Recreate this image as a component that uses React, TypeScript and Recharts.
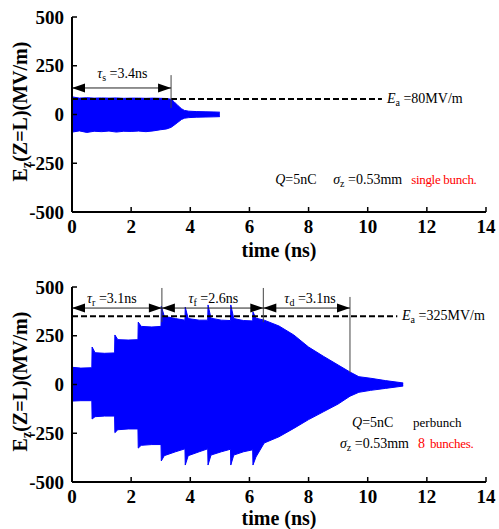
import { ComposedChart, Area, XAxis, YAxis, ReferenceLine, ReferenceDot, Label } from "recharts";

const FONT = "'Liberation Serif', 'Times New Roman', serif";

const xTicks = [0, 2, 4, 6, 8, 10, 12, 14];
const yTicks = [-500, -250, 0, 250, 500];

// single bunch: field envelope, time (ns) / lower / upper (MV/m)
const singleTime = [0, 0.02, 0.25, 0.5, 0.75, 1.0, 1.25, 1.5, 1.75, 2.0, 2.25, 2.5, 2.75, 3.0, 3.2, 3.35, 3.45, 3.58, 3.7, 3.8, 3.95, 4.2, 4.5, 4.8, 5.0];
const singleHigh = [135, 90, 84, 86, 84, 85, 84, 85, 83, 84, 84, 83, 84, 83, 82, 78, 66, 46, 30, 21, 17, 15, 14, 13, 12];
const singleLow = [-95, -90, -84, -92, -86, -88, -85, -90, -86, -87, -85, -88, -84, -78, -74, -66, -55, -40, -26, -19, -16, -14, -13, -12, -11];

// 8 bunches
const multiTime = [0, 0.02, 0.3, 0.67, 0.68, 0.78, 1.1, 1.44, 1.45, 1.55, 1.9, 2.23, 2.24, 2.34, 2.7, 3.01, 3.02, 3.12, 3.5, 3.82, 3.83, 3.93, 4.3, 4.59, 4.6, 4.7, 5.05, 5.36, 5.37, 5.47, 5.8, 6.11, 6.12, 6.22, 6.5, 7.0, 7.5, 8.0, 8.5, 9.0, 9.4, 9.7, 10.1, 10.6, 11.2];
const multiHigh = [135, 88, 84, 86, 192, 163, 160, 162, 254, 230, 228, 230, 320, 298, 295, 298, 402, 350, 338, 330, 397, 338, 330, 330, 408, 340, 330, 328, 408, 338, 328, 326, 372, 340, 330, 300, 254, 192, 145, 100, 64, 40, 32, 20, 8];
const multiLow = [-95, -85, -83, -83, -177, -165, -162, -162, -247, -232, -228, -228, -326, -312, -308, -308, -392, -365, -345, -330, -413, -365, -345, -330, -413, -362, -345, -332, -413, -362, -345, -335, -413, -372, -300, -268, -225, -180, -140, -100, -60, -40, -30, -20, -8];

// annotations
const singleArrows = [[0, 3.35]];
const singleTaus = [{ sub: "s", val: "3.4ns" }];
const singleVerticals = [{ x: 3.35, y1: 202, y2: 33 }];
const multiArrows = [[0, 3.04], [3.04, 6.47], [6.47, 9.4]];
const multiTaus = [{ sub: "r", val: "3.1ns" }, { sub: "f", val: "2.6ns" }, { sub: "d", val: "3.1ns" }];
const multiVerticals = [
  { x: 3.04, y1: 495, y2: 320 },
  { x: 6.47, y1: 495, y2: 320 },
  { x: 9.4, y1: 449, y2: 59 },
];

const singleData = singleTime.map((t, i) => ({ t, range: [singleLow[i], singleHigh[i]] }));
const multiData = multiTime.map((t, i) => ({ t, range: [multiLow[i], multiHigh[i]] }));

const txt = { fontFamily: FONT, fontSize: 14, fill: "#000" };

const leftHead = (p: any) => (
  <polygon points={`${p.cx},${p.cy} ${p.cx + 13},${p.cy - 4.5} ${p.cx + 13},${p.cy + 4.5}`} fill="#000" />
);
const rightHead = (p: any) => (
  <polygon points={`${p.cx},${p.cy} ${p.cx - 13},${p.cy - 4.5} ${p.cx - 13},${p.cy + 4.5}`} fill="#000" />
);

const tauText = (sub: string, val: string) => (p: any) => (
  <text x={p.cx} y={p.cy} textAnchor="middle" {...txt}>
    <tspan fontStyle="italic">τ</tspan>
    <tspan fontSize={10} dy={3}>{sub}</tspan>
    <tspan dy={-3}> ={val}</tspan>
  </text>
);

const eaText = (val: string) => (p: any) => (
  <text x={p.cx} y={p.cy} {...txt}>
    <tspan fontStyle="italic">E</tspan>
    <tspan fontSize={10} dy={3}>a</tspan>
    <tspan dy={-3}> ={val}</tspan>
  </text>
);

const singleInfo = (p: any) => (
  <text x={p.cx} y={p.cy} {...txt}>
    <tspan fontStyle="italic">Q</tspan>
    <tspan>=5nC</tspan>
    <tspan x={p.cx + 58} fontStyle="italic">σ</tspan>
    <tspan fontSize={10} dy={3}>z</tspan>
    <tspan dy={-3}> =0.53mm</tspan>
    <tspan x={p.cx + 136} fill="#ff0000" fontSize={13} letterSpacing={-0.3}>single bunch.</tspan>
  </text>
);

const multiInfoQ = (p: any) => (
  <text x={p.cx} y={p.cy} {...txt}>
    <tspan fontStyle="italic">Q</tspan>
    <tspan>=5nC</tspan>
    <tspan x={p.cx + 61} fontSize={13}>perbunch</tspan>
  </text>
);

const multiInfoS = (p: any) => (
  <text x={p.cx} y={p.cy} {...txt}>
    <tspan fontStyle="italic">σ</tspan>
    <tspan fontSize={10} dy={3}>z</tspan>
    <tspan dy={-3}> =0.53mm</tspan>
    <tspan x={p.cx + 78} fill="#ff0000">8</tspan>
    <tspan x={p.cx + 90} fill="#ff0000" fontSize={13} letterSpacing={-0.3}>bunches.</tspan>
  </text>
);

const yLabel = (props: any) => {
  const vb = props.viewBox || { x: 0, y: 0, width: 72, height: 195 };
  const cx = vb.x + 27;
  const cy = vb.y + vb.height / 2 - 3;
  return (
    <text x={cx} y={cy} transform={`rotate(-90 ${cx} ${cy})`} textAnchor="middle" fontFamily={FONT} fontWeight="bold" fontSize={20} fill="#000">
      E<tspan fontSize={14} dy={4}>z</tspan>
      <tspan dy={-4}>(Z=L)(MV/m)</tspan>
    </text>
  );
};

const tickStyle = { fill: "#000", fontSize: 19, fontWeight: "bold", fontFamily: FONT };
const axisLine = { stroke: "#000", strokeWidth: 2 };
const tickLine = { stroke: "#000", strokeWidth: 1.5 };

interface PanelProps {
  data: { t: number; range: number[] }[];
  height: number;
  top: number;
  xAxisHeight: number;
  labelOffset: number;
  eaValue: number;
  eaEnd: number;
  eaLabel: string;
  eaPos: [number, number];
  arrows: number[][];
  arrowY: number;
  taus: { sub: string; val: string }[];
  tauPos: number[];
  tauY: number;
  verticals: { x: number; y1: number; y2: number }[];
  infos: { x: number; y: number; shape: (p: any) => any }[];
}

function Panel(p: PanelProps) {
  return (
    <ComposedChart width={499} height={p.height} data={p.data} margin={{ top: p.top, right: 13, left: 0, bottom: 0 }}>
      <XAxis
        dataKey="t"
        type="number"
        domain={[0, 14]}
        ticks={xTicks}
        interval={0}
        height={p.xAxisHeight}
        tick={tickStyle}
        tickSize={-5}
        tickMargin={13}
        axisLine={axisLine}
        tickLine={tickLine}
      >
        <Label value="time (ns)" position="insideBottom" offset={p.labelOffset} fill="#000" fontFamily={FONT} fontWeight="bold" fontSize={20} />
      </XAxis>
      <XAxis xAxisId="top" orientation="top" type="number" domain={[0, 14]} ticks={xTicks} height={0} tick={false} tickSize={-5} axisLine={axisLine} tickLine={tickLine} />
      <YAxis
        type="number"
        domain={[-500, 500]}
        ticks={yTicks}
        interval={0}
        width={72}
        tick={tickStyle}
        tickSize={-5}
        tickMargin={13}
        axisLine={axisLine}
        tickLine={tickLine}
      >
        <Label content={yLabel} />
      </YAxis>
      <YAxis yAxisId="right" orientation="right" type="number" domain={[-500, 500]} ticks={yTicks} width={0} tick={false} tickSize={-5} axisLine={axisLine} tickLine={tickLine} />
      <Area dataKey="range" type="linear" stroke="#0000ff" strokeWidth={1} fill="#0000ff" fillOpacity={1} isAnimationActive={false} />
      <ReferenceLine
        segment={[{ x: 0, y: p.eaValue }, { x: p.eaEnd, y: p.eaValue }]}
        stroke="#000"
        strokeWidth={2}
        strokeDasharray="6 3"
      />
      <ReferenceDot x={p.eaPos[0]} y={p.eaPos[1]} r={1} shape={eaText(p.eaLabel)} ifOverflow="visible" />
      {p.verticals.map((v, i) => (
        <ReferenceLine key={`v${i}`} segment={[{ x: v.x, y: v.y1 }, { x: v.x, y: v.y2 }]} stroke="#444" strokeWidth={1} />
      ))}
      {p.arrows.map((a, i) => (
        <ReferenceLine key={`a${i}`} segment={[{ x: a[0], y: p.arrowY }, { x: a[1], y: p.arrowY }]} stroke="#222" strokeWidth={1} />
      ))}
      {p.arrows.map((a, i) => (
        <ReferenceDot key={`l${i}`} x={a[0]} y={p.arrowY} r={1} shape={leftHead} ifOverflow="visible" />
      ))}
      {p.arrows.map((a, i) => (
        <ReferenceDot key={`r${i}`} x={a[1]} y={p.arrowY} r={1} shape={rightHead} ifOverflow="visible" />
      ))}
      {p.taus.map((t, i) => (
        <ReferenceDot key={`t${i}`} x={p.tauPos[i]} y={p.tauY} r={1} shape={tauText(t.sub, t.val)} ifOverflow="visible" />
      ))}
      {p.infos.map((f, i) => (
        <ReferenceDot key={`f${i}`} x={f.x} y={f.y} r={1} shape={f.shape} ifOverflow="visible" />
      ))}
    </ComposedChart>
  );
}

export default function App() {
  return (
    <div style={{ position: "absolute", left: 0, top: 0, width: 499, height: 529, background: "#fff" }}>
      <Panel
        data={singleData}
        height={265}
        top={17}
        xAxisHeight={53}
        labelOffset={8}
        eaValue={80}
        eaEnd={10.48}
        eaLabel="80MV/m"
        eaPos={[10.65, 59]}
        arrows={singleArrows}
        arrowY={136}
        taus={singleTaus}
        tauPos={[1.7]}
        tauY={187}
        verticals={singleVerticals}
        infos={[{ x: 6.87, y: -356, shape: singleInfo }]}
      />
      <Panel
        data={multiData}
        height={264}
        top={22}
        xAxisHeight={47}
        labelOffset={4}
        eaValue={350}
        eaEnd={11.0}
        eaLabel="325MV/m"
        eaPos={[11.16, 330]}
        arrows={multiArrows}
        arrowY={392}
        taus={multiTaus}
        tauPos={[1.35, 4.78, 8.05]}
        tauY={418}
        verticals={multiVerticals}
        infos={[
          { x: 9.47, y: -218, shape: multiInfoQ },
          { x: 9.06, y: -326, shape: multiInfoS },
        ]}
      />
    </div>
  );
}
